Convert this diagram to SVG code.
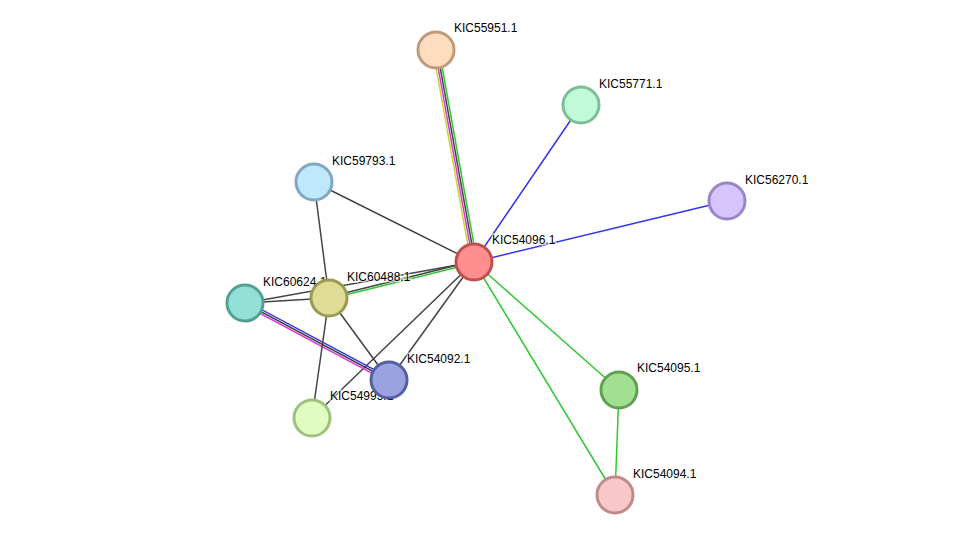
<svg xmlns="http://www.w3.org/2000/svg" width="976" height="541" viewBox="0 0 976 541">
<style>
.e line{stroke-width:1.5;fill:none}
.k{stroke:#444}.g{stroke:#33c633}.b{stroke:#3333ee}.m{stroke:#d63ad6}.y{stroke:#c6d633}
circle{stroke-width:3}
text{font-family:"Liberation Sans",Arial,sans-serif;font-size:12px;fill:#000;stroke:#fff;stroke-width:3px;stroke-opacity:0.6;paint-order:stroke}
</style>
<rect width="976" height="541" fill="#fff"/>
<g id="connectors" class="e">
<line class="y" x1="433" y1="50.5" x2="471" y2="262.5"/>
<line class="m" x1="435" y1="50.2" x2="473" y2="262.2"/>
<line class="k" x1="437" y1="49.8" x2="475" y2="261.8"/>
<line class="g" x1="439" y1="49.5" x2="477" y2="261.5"/>
<line class="b" x1="474" y1="262" x2="581" y2="105"/>
<line class="b" x1="474" y1="262" x2="727" y2="201"/>
<line class="k" x1="474" y1="262" x2="314" y2="182"/>
<line class="k" x1="328.8" y1="297" x2="473.8" y2="261"/>
<line class="g" x1="329.2" y1="299" x2="474.2" y2="263"/>
<line class="k" x1="474" y1="262" x2="245" y2="303"/>
<line class="k" x1="474" y1="262" x2="389" y2="380"/>
<line class="k" x1="474" y1="262" x2="312" y2="418"/>
<line class="g" x1="474" y1="262" x2="619" y2="390"/>
<line class="g" x1="474" y1="262" x2="615" y2="495"/>
<line class="g" x1="619" y1="390" x2="615" y2="495"/>
<line class="k" x1="314" y1="182" x2="329" y2="298"/>
<line class="k" x1="245" y1="303" x2="329" y2="298"/>
<line class="b" x1="246" y1="301.2" x2="390" y2="378.2"/>
<line class="k" x1="245" y1="303" x2="389" y2="380"/>
<line class="m" x1="244" y1="304.8" x2="388" y2="381.8"/>
<line class="k" x1="329" y1="298" x2="389" y2="380"/>
<line class="k" x1="329" y1="298" x2="312" y2="418"/>
</g>
<g id="n-KIC5499"><circle cx="312" cy="418" r="18" fill="#e0fcc0" stroke="#a0c080"/><text x="330" y="400">KIC54993.1</text></g>
<g id="n-KIC55951"><circle cx="436" cy="50" r="18" fill="#fedcc0" stroke="#c09b7a"/><text x="454" y="32">KIC55951.1</text></g>
<g id="n-KIC55771"><circle cx="581" cy="105" r="18" fill="#c1fad9" stroke="#7cbf95"/><text x="599" y="88">KIC55771.1</text></g>
<g id="n-KIC59793"><circle cx="314" cy="182" r="18" fill="#c0e8fb" stroke="#80a8c4"/><text x="332" y="165">KIC59793.1</text></g>
<g id="n-KIC56270"><circle cx="727" cy="201" r="18" fill="#d5c5fc" stroke="#9a85c8"/><text x="745" y="184">KIC56270.1</text></g>
<g id="n-KIC54096"><circle cx="474" cy="262" r="18" fill="#ff8f8f" stroke="#c05050"/><text x="492" y="244">KIC54096.1</text></g>
<g id="n-KIC60624"><circle cx="245" cy="303" r="18" fill="#93e0d6" stroke="#55a095"/><text x="263" y="286">KIC60624.1</text></g>
<g id="n-KIC60488"><circle cx="329" cy="298" r="18" fill="#dfdc97" stroke="#9a9a55"/><text x="347" y="281">KIC60488.1</text></g>
<g id="n-KIC54092"><circle cx="389" cy="380" r="18" fill="#99a3e0" stroke="#5560a0"/><text x="407" y="363">KIC54092.1</text></g>
<g id="n-KIC54095"><circle cx="619" cy="390" r="18" fill="#a0e090" stroke="#60a050"/><text x="637" y="372">KIC54095.1</text></g>
<g id="n-KIC54094"><circle cx="615" cy="495" r="18" fill="#f8c8c8" stroke="#c08a8a"/><text x="633" y="478">KIC54094.1</text></g>
</svg>
